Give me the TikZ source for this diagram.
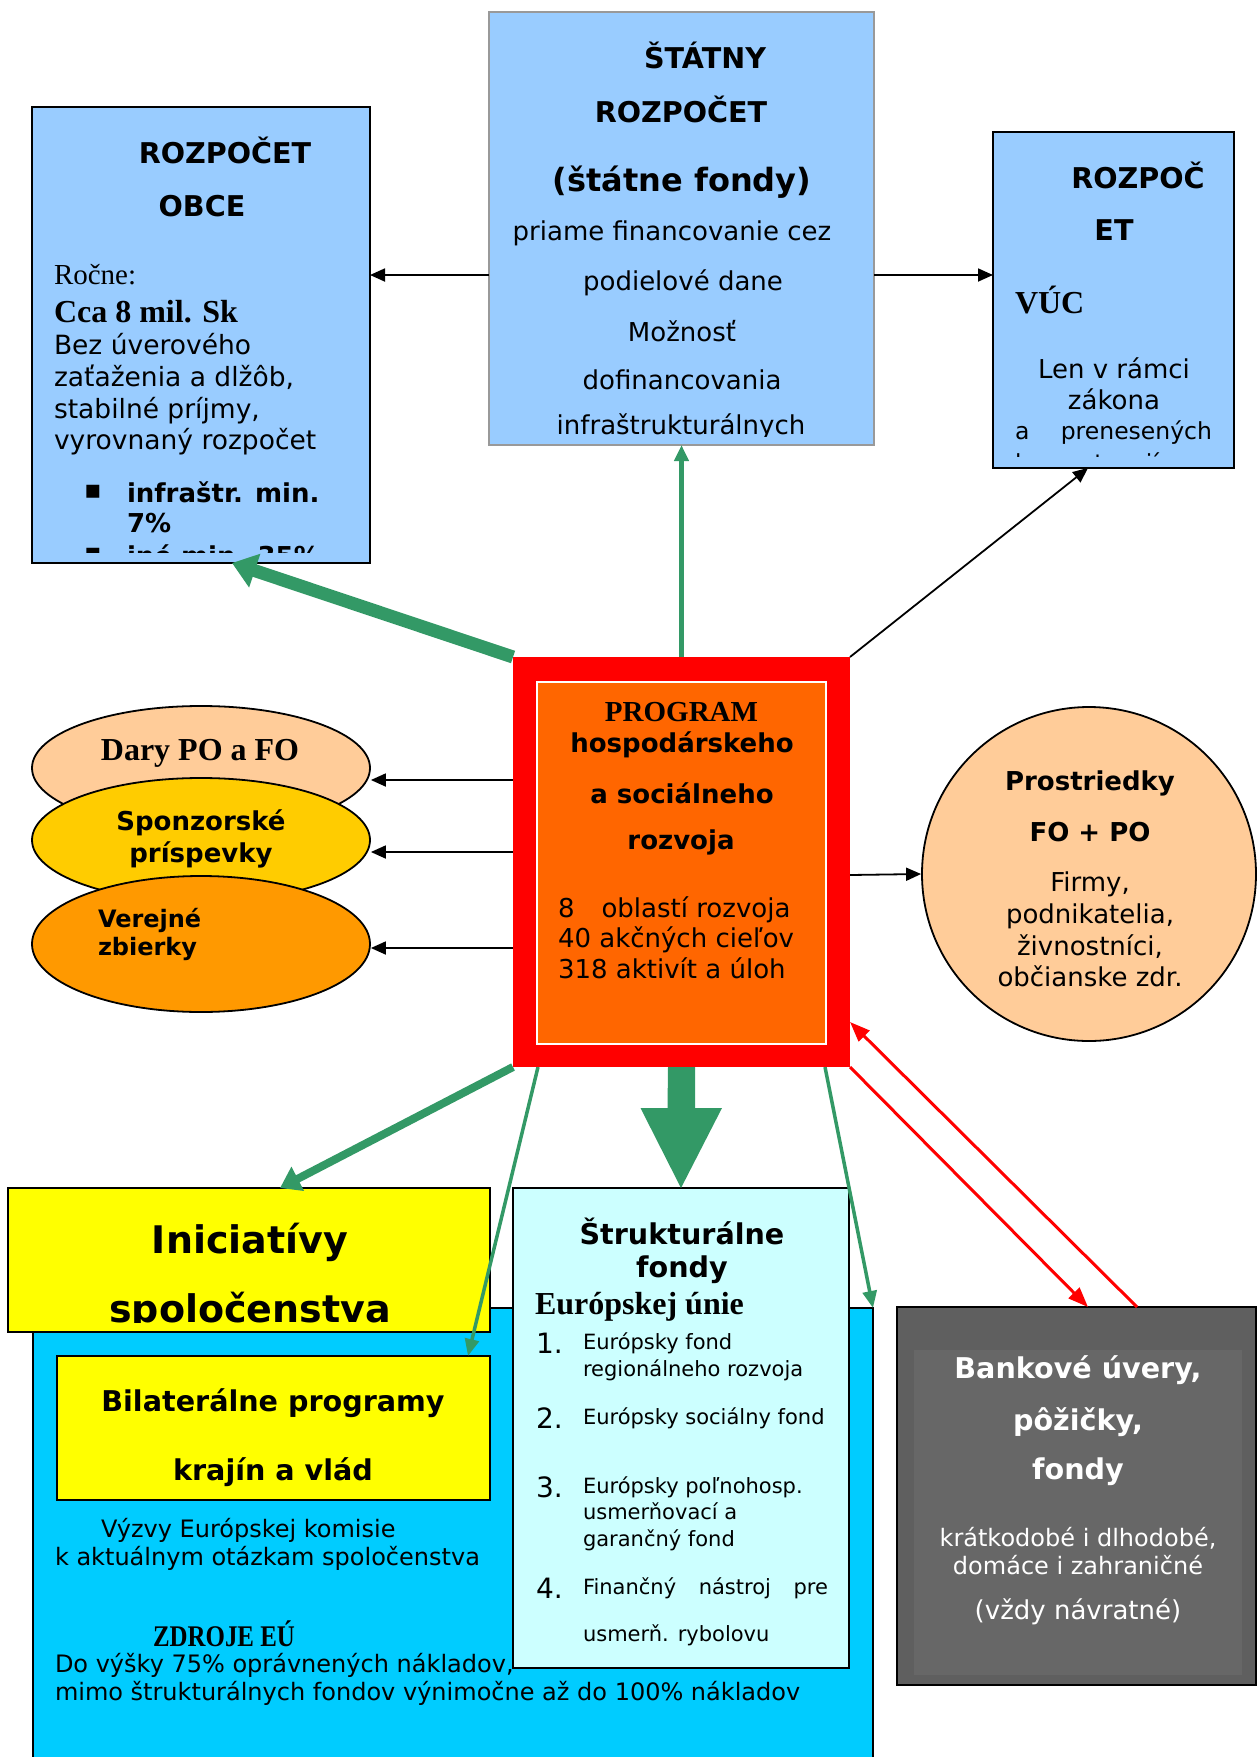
\documentclass[tikz,border=0pt]{standalone}
\usepackage{fontspec}
\usepackage{graphicx}
\setmainfont{DejaVu Sans}
\newfontfamily\tms{Liberation Serif}
\usetikzlibrary{arrows.meta,calc,shapes.geometric}
\newcommand\fs[2]{\fontsize{#1}{#2}\selectfont}
\definecolor{blueL}{HTML}{99CCFF}
\definecolor{grn}{HTML}{339966}
\definecolor{cyanB}{HTML}{00CCFF}
\definecolor{cyanL}{HTML}{CCFFFF}
\definecolor{orng}{HTML}{FF6600}
\definecolor{ora}{HTML}{FF9900}
\definecolor{gold}{HTML}{FFCC00}
\definecolor{peach}{HTML}{FFCC99}
\definecolor{yel}{HTML}{FFFF00}
\definecolor{grayA}{HTML}{5F5F5F}
\definecolor{grayB}{HTML}{676767}
\definecolor{grayE}{HTML}{999999}
\begin{document}
\begin{tikzpicture}[x=1pt,y=-1pt,
 box/.style={rectangle,inner sep=0pt,outer sep=0pt},
 t/.style={inner sep=0pt,outer sep=0pt,align=center},
 tl/.style={inner sep=0pt,outer sep=0pt,align=left,anchor=west},
 blk/.style={draw=black,line width=1.8pt,-{Triangle[length=15pt,width=13pt]}},
 gthin/.style={draw=grn,line width=3.5pt,-{Triangle[length=17pt,width=14pt]}},
 rarr/.style={draw=red,line width=3pt,-{Triangle[length=20pt,width=15pt]}},
 body/.style={font=\fs{26}{31.7}},
 hd/.style={font=\bfseries\fs{28.6}{31}},
]
\useasboundingbox (0,0) rectangle (1258,1757);
\clip (0,0) rectangle (1258,1757);

% ---------- lower area ----------
\node[box,draw=black,line width=1.5pt,fill=cyanB,minimum width=840pt,minimum height=480pt] (zdroje) at (453,1548) {};
\node[tl,font=\fs{24}{28}] (vyzvy1) at (101,1530) {Výzvy Európskej komisie};
\node[tl,font=\fs{24}{28}] (vyzvy2) at (55,1558) {k aktuálnym otázkam spoločenstva};
\node[t,font=\tms\bfseries\fs{30}{34}] (zdrojeT) at (224,1634) {\scalebox{0.83}[1]{ZDROJE EÚ}};
\node[tl,font=\fs{24}{28}] (dovysky) at (55,1679) {Do výšky 75\% oprávnených nákladov,\\mimo štrukturálnych fondov výnimočne až do 100\% nákladov};

\node[box,draw=black,line width=2.5pt,fill=yel,minimum width=482pt,minimum height=144pt] (inic) at (249,1260) {};
\begin{scope}
\clip (8,1188) rectangle (490,1322);
\node[t,font=\bfseries\fs{38}{40}] (inicT1) at (250,1242) {Iniciatívy};
\node[t,font=\bfseries\fs{38}{40}] (inicT2) at (250,1311) {spoločenstva};
\end{scope}

\node[box,draw=black,line width=2.5pt,fill=yel,minimum width=433pt,minimum height=144pt] (bil) at (273.5,1428) {};
\node[t,hd] (bilT1) at (273,1403) {Bilaterálne programy};
\node[t,hd] (bilT2) at (273,1472) {krajín a vlád};

\node[box,draw=black,line width=2.5pt,fill=cyanL,minimum width=336pt,minimum height=480pt] (struk) at (681,1428) {};
\node[t,font=\bfseries\fs{28.6}{31}] (strT1) at (682,1231) {Štrukturálne};
\node[t,font=\bfseries\fs{28.6}{31}] (strT2) at (682,1270) {fondy};
\node[tl,font=\tms\bfseries\fs{32}{34}] (strT3) at (535,1307) {Európskej únie};
\node[tl,font=\fs{28}{30}] (n1) at (536,1343) {1.};
\node[tl,font=\fs{28}{30}] (n2) at (536,1418) {2.};
\node[tl,font=\fs{28}{30}] (n3) at (536,1487) {3.};
\node[tl,font=\fs{28}{30}] (n4) at (536,1588) {4.};
\node[tl,font=\fs{21}{27}] (i1) at (583,1356.5) {Európsky fond\\regionálneho rozvoja};
\node[tl,font=\fs{21}{27}] (i2) at (583,1418) {Európsky sociálny fond};
\node[tl,font=\fs{21}{26.5}] (i3) at (583,1513.5) {Európsky poľnohosp.\\usmerňovací a\\garančný fond};
\node[tl,font=\fs{21}{27}] (i4) at (583,1588) {\makebox[245pt][s]{Finančný nástroj pre}};
\node[tl,font=\fs{21}{27}] (i5) at (583,1635) {usmerň. rybolovu};

\node[box,draw=black,line width=2pt,fill=grayA,minimum width=359pt,minimum height=378pt] (bank) at (1076.5,1496) {};
\node[box,fill=grayB,minimum width=328pt,minimum height=325pt] (bankin) at (1078,1512.5) {};
\node[t,font=\bfseries\fs{28.6}{31},text=white] (bk1) at (1078,1370) {Bankové úvery,};
\node[t,font=\bfseries\fs{28.6}{31},text=white] (bk2) at (1078,1422) {pôžičky,};
\node[t,font=\bfseries\fs{28.6}{31},text=white] (bk3) at (1078,1472) {fondy};
\node[t,font=\fs{24}{28},text=white] (bk4) at (1078,1551) {krátkodobé i dlhodobé,\\domáce i zahraničné};
\node[t,font=\fs{26}{30},text=white] (bk5) at (1078,1612) {(vždy návratné)};

% ---------- ellipses and circle ----------
\node[ellipse,draw=black,line width=1.8pt,fill=peach,minimum width=338pt,minimum height=124pt,inner sep=0pt] (dary) at (201,768) {};
\node[t,font=\tms\bfseries\fs{32}{34}] (daryT) at (200,753) {Dary PO a FO};
\node[ellipse,draw=black,line width=1.8pt,fill=gold,minimum width=338pt,minimum height=124pt,inner sep=0pt] (spon) at (201,840) {};
\node[t,font=\bfseries\fs{26}{32}] (sponT) at (201,839) {Sponzorské\\príspevky};
\node[ellipse,draw=black,line width=1.8pt,fill=ora,minimum width=338pt,minimum height=136pt,inner sep=0pt] (ver) at (201,944) {};
\node[tl,font=\bfseries\fs{24}{28}] (verT) at (98,934) {Verejné\\zbierky};

\node[circle,draw=black,line width=1.8pt,fill=peach,minimum size=334pt,inner sep=0pt] (circ) at (1089,874) {};
\node[t,font=\bfseries\fs{26}{30}] (cT1) at (1090,783) {Prostriedky};
\node[t,font=\bfseries\fs{26}{30}] (cT2) at (1090,832) {FO + PO};
\node[t,body] (cT3) at (1090,929.5) {Firmy,\\podnikatelia,\\živnostníci,\\občianske zdr.};

% ---------- top boxes ----------
\node[box,draw=black,line width=2.5pt,fill=blueL,minimum width=338pt,minimum height=456pt] (obce) at (201,335) {};
\begin{scope}
\clip (32,107) rectangle (370,552);
\node[t,hd] (obT1) at (225,150) {ROZPOČET};
\node[t,hd] (obT2) at (202,206.5) {OBCE};
\node[tl,font=\tms\fs{29}{31}] (obT3) at (54,275) {Ročne:};
\node[tl,font=\tms\bfseries\fs{32}{34}] (obT4) at (54,312) {Cca 8 mil. Sk};
\node[tl,font=\fs{26.5}{31.7}] (obT5) at (54,394.5) {Bez úverového\\zaťaženia a dlžôb,\\stabilné príjmy,\\vyrovnaný rozpočet};
\node[tl,font=\fs{26}{30}] (bu1) at (84,492) {▪};
\node[tl,font=\bfseries\fs{26}{30}] (bt1) at (127,492) {infraštr. min.};
\node[tl,font=\bfseries\fs{26}{30}] (bt2) at (127,523) {7\%};
\node[tl,font=\fs{26}{30}] (bu2) at (84,555) {▪};
\node[tl,font=\bfseries\fs{26}{30}] (bt3) at (127,555) {iné min. 35\%};
\end{scope}

\node[box,draw=grayE,line width=2.5pt,fill=blueL,minimum width=385pt,minimum height=433pt] (statny) at (681.5,228.5) {};
\begin{scope}
\clip (489,12) rectangle (874,436);
\node[t,hd] (stT1) at (705,55) {ŠTÁTNY};
\node[t,hd] (stT2) at (681,109) {ROZPOČET};
\node[t,font=\bfseries\fs{32}{34}] (stT3) at (682,182) {(štátne fondy)};
\node[t,body] (stT4) at (672,233) {priame financovanie cez};
\node[t,body] (stT5) at (683,283) {podielové dane};
\node[t,body] (stT6) at (682,331) {Možnosť};
\node[t,body] (stT7) at (682,380) {dofinancovania};
\node[t,body] (stT8) at (681,427) {infraštrukturálnych};
\end{scope}

\node[box,draw=black,line width=2.5pt,fill=blueL,minimum width=241pt,minimum height=336pt] (vuc) at (1113.5,300) {};
\begin{scope}
\clip (993,132) rectangle (1234,456);
\node[t,hd] (vT1) at (1138,175) {ROZPOČ};
\node[t,hd] (vT2) at (1114,230) {ET};
\node[tl,font=\tms\bfseries\fs{32}{34}] (vT3) at (1015,300) {VÚC};
\node[t,body] (vT4) at (1114,368) {Len v rámci};
\node[t,body] (vT5) at (1114,399) {zákona};
\node[tl,font=\fs{23.5}{28}] (vT6) at (1015,433) {a};
\node[t,font=\fs{23.5}{28},anchor=east] (vT7) at (1212,433) {prenesených};
\node[tl,font=\fs{23.5}{28}] (vT8) at (1015,465) {kompetencií};
\end{scope}

% ---------- program node (geometry) ----------
\node[box,minimum width=337pt,minimum height=410pt] (prog) at (681.5,862) {};

% ---------- connectors ----------
\draw[blk] (statny.west |- 0,275) -- (obce.east |- 0,275);
\draw[blk] (statny.east |- 0,275) -- (vuc.west |- 0,275);
\draw[blk] (prog.north east) -- ([xshift=-25.5pt]vuc.south);
\draw[blk] (prog.west |- 0,780) -- (dary.east |- 0,780);
\draw[blk] (prog.west |- 0,852) -- (spon.east |- 0,852);
\draw[blk] (prog.west |- 0,948) -- (ver.east |- 0,948);
\draw[blk] (prog.east |- 0,875) -- (circ.west);

\draw[draw=grn,line width=4.5pt,-{Triangle[length=16pt,width=14pt]}] (prog.north) -- (statny.south);
\draw[draw=grn,line width=13pt,-{Triangle[length=24pt,width=34pt]}] (prog.north west) -- ([xshift=31pt]obce.south);
\draw[draw=grn,line width=8pt,-{Triangle[length=20pt,width=26pt]}] (prog.south west) -- ([xshift=31pt]inic.north);
\draw[gthin] ([xshift=25pt]prog.south west) -- ([xshift=-22pt]bil.north east);
\draw[gthin] ([xshift=-25pt]prog.south east) -- (zdroje.north east);
\fill[grn] ([xshift=-13.5pt]prog.south) -- ([xshift=13.5pt]prog.south) -- ++(0,41) -- ++(27,0) -- (struk.north) -- ++(-40.5,-80) -- ++(27,0) -- cycle;

\draw[rarr] (prog.south east) -- ([xshift=11.5pt]bank.north);
\draw[rarr] ([xshift=60.5pt]bank.north) -- (prog.east |- 0,1022);

% ---------- program box ----------
\fill[red] (prog.north west) rectangle (prog.south east);
\node[box,draw=white,line width=1.5pt,fill=orng,minimum width=289pt,minimum height=362pt] (progin) at (681.5,863) {};
\node[t,font=\tms\bfseries\fs{29}{31}] (pT1) at (681.5,712) {PROGRAM};
\node[t,font=\bfseries\fs{26}{30}] (pT2) at (682,745) {hospodárskeho};
\node[t,font=\bfseries\fs{26}{30}] (pT3) at (682,793) {a sociálneho};
\node[t,font=\bfseries\fs{26}{30}] (pT4) at (681,842) {rozvoja};
\node[tl,font=\fs{26}{30.5}] (pT5) at (558,937.5) {8\hspace{27pt}oblastí rozvoja\\40 akčných cieľov\\318 aktivít a úloh};
\end{tikzpicture}
\end{document}
